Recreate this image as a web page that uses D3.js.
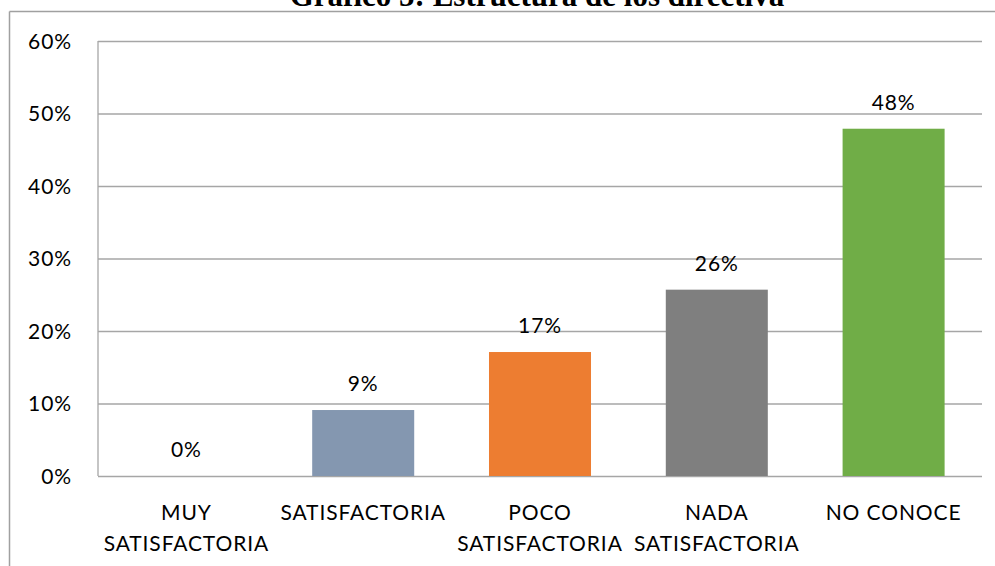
<!DOCTYPE html>
<html>
<head>
<meta charset="utf-8">
<script src="https://cdn.jsdelivr.net/npm/d3@7"></script>
<style>
  body { margin: 0; background: #fff; }
  svg text { font-family: Lato, "Liberation Sans", sans-serif; fill: #000; letter-spacing: 0.9px; }
</style>
</head>
<body>
<div id="chart"></div>
<script>
// data
const categories = ["MUY SATISFACTORIA", "SATISFACTORIA", "POCO SATISFACTORIA", "NADA SATISFACTORIA", "NO CONOCE"];
const categoryLines = [["MUY", "SATISFACTORIA"], ["SATISFACTORIA"], ["POCO", "SATISFACTORIA"], ["NADA", "SATISFACTORIA"], ["NO CONOCE"]];
const values = [0, 0.091, 0.171, 0.257, 0.479];
const colors = ["#5B9BD5", "#8497B0", "#ED7D31", "#7F7F7F", "#70AD47"];
const yTicks = [0, 0.1, 0.2, 0.3, 0.4, 0.5, 0.6];
const title = "Gráfico 5: Estructura de los directiva";

let width = 995;
let height = 566;
let margin = { top: 41, right: 13, bottom: 90, left: 98 };

let svg = d3
  .select("#chart")
  .append("svg")
  .attr("width", width)
  .attr("height", height);

// title, clipped by the frame top (only its lower part shows)
svg.append("text")
  .attr("x", 537)
  .attr("y", 6)
  .attr("text-anchor", "middle")
  .style("font-family", "'Liberation Serif', 'Times New Roman', serif")
  .style("font-weight", "bold")
  .style("font-size", "31px")
  .style("letter-spacing", "0px")
  .text(title);

// outer frame (top + left only visible)
svg.append("line")
  .attr("x1", 9.5).attr("x2", width).attr("y1", 11.5).attr("y2", 11.5)
  .attr("stroke", "#A0A0A0").attr("stroke-width", 1.5);
svg.append("line")
  .attr("x1", 9.5).attr("x2", 9.5).attr("y1", 11.5).attr("y2", height)
  .attr("stroke", "#A0A0A0").attr("stroke-width", 1.5);

let x = d3.scaleBand()
  .domain(categories)
  .range([margin.left, width - margin.right])
  .paddingInner(0.423)
  .paddingOuter(0.2115);

let y = d3.scaleLinear()
  .domain([0, 0.6])
  .range([height - margin.bottom, margin.top]);

// gridlines
let grid = d3.axisLeft(y)
  .tickValues(yTicks)
  .tickSize(-(width - margin.right - margin.left))
  .tickFormat("");
svg.append("g")
  .attr("transform", `translate(${margin.left},0)`)
  .call(grid)
  .call((g) => g.select(".domain").remove())
  .call((g) => g.selectAll("line").attr("stroke", "#A6A6A6").attr("stroke-width", 1.3));

// left vertical axis line
svg.append("line")
  .attr("x1", margin.left).attr("x2", margin.left)
  .attr("y1", y(0.6)).attr("y2", y(0))
  .attr("stroke", "#A6A6A6").attr("stroke-width", 1.3);

// y labels
let yAxis = d3.axisLeft(y)
  .tickValues(yTicks)
  .tickSize(0)
  .tickPadding(26)
  .tickFormat(d3.format(".0%"));
svg.append("g")
  .attr("transform", `translate(${margin.left},0)`)
  .call(yAxis)
  .call((g) => g.select(".domain").remove())
  .call((g) => g.selectAll("text")
    .style("font-family", "Lato, 'Liberation Sans', sans-serif")
    .style("font-size", "21px")
    .attr("dy", "0.35em"));

// bars
svg.selectAll("rect.bar")
  .data(values)
  .enter()
  .append("rect")
  .attr("class", "bar")
  .attr("x", (d, i) => x(categories[i]))
  .attr("y", (d) => y(d))
  .attr("width", x.bandwidth())
  .attr("height", (d) => y(0) - y(d))
  .attr("fill", (d, i) => colors[i]);

// value labels
svg.selectAll("text.val")
  .data(values)
  .enter()
  .append("text")
  .attr("class", "val")
  .attr("x", (d, i) => x(categories[i]) + x.bandwidth() / 2)
  .attr("y", (d) => y(d) - 19)
  .attr("text-anchor", "middle")
  .style("font-size", "21px")
  .text((d) => d3.format(".0%")(d));

// category labels
categoryLines.forEach((lines, i) => {
  let cx = x(categories[i]) + x.bandwidth() / 2;
  let t = svg.append("text")
    .attr("x", cx)
    .attr("y", 520)
    .attr("text-anchor", "middle")
    .style("font-size", "21px");
  lines.forEach((ln, j) => {
    t.append("tspan")
      .attr("x", cx)
      .attr("dy", j === 0 ? 0 : 31)
      .text(ln);
  });
});
</script>
</body>
</html>
